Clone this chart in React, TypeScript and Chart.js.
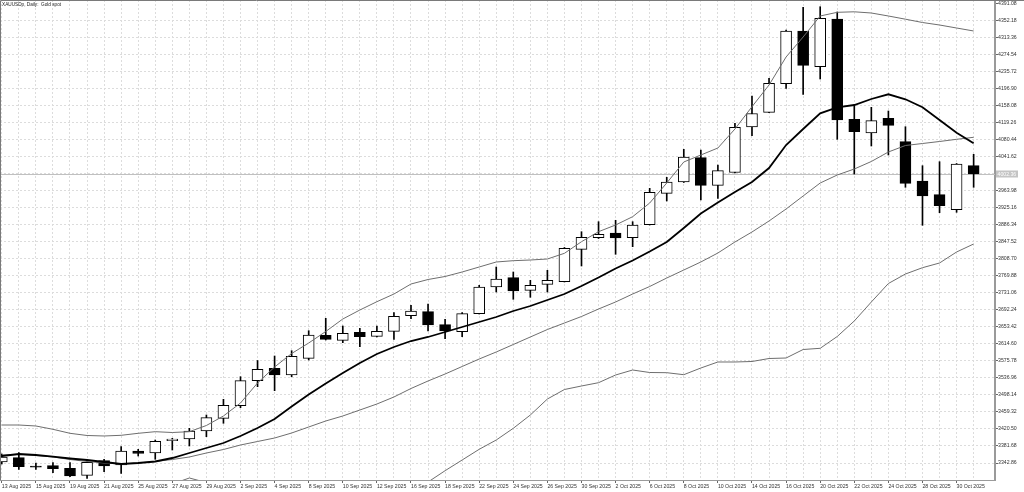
import React, { useEffect, useRef } from "react";
import { Chart, registerables } from "chart.js";
Chart.register(...registerables);

const title = "XAUUSDp, Daily:  Gold spot";

const dates = [
  "13 Aug 2025", "14 Aug 2025", "15 Aug 2025", "18 Aug 2025", "19 Aug 2025", "20 Aug 2025", "21 Aug 2025", "22 Aug 2025",
  "25 Aug 2025", "26 Aug 2025", "27 Aug 2025", "28 Aug 2025", "29 Aug 2025", "1 Sep 2025", "2 Sep 2025", "3 Sep 2025",
  "4 Sep 2025", "5 Sep 2025", "8 Sep 2025", "9 Sep 2025", "10 Sep 2025", "11 Sep 2025", "12 Sep 2025", "15 Sep 2025",
  "16 Sep 2025", "17 Sep 2025", "18 Sep 2025", "19 Sep 2025", "22 Sep 2025", "23 Sep 2025", "24 Sep 2025", "25 Sep 2025",
  "26 Sep 2025", "29 Sep 2025", "30 Sep 2025", "1 Oct 2025", "2 Oct 2025", "3 Oct 2025", "6 Oct 2025", "7 Oct 2025",
  "8 Oct 2025", "9 Oct 2025", "10 Oct 2025", "13 Oct 2025", "14 Oct 2025", "15 Oct 2025", "16 Oct 2025", "17 Oct 2025",
  "20 Oct 2025", "21 Oct 2025", "22 Oct 2025", "23 Oct 2025", "24 Oct 2025", "27 Oct 2025", "28 Oct 2025", "29 Oct 2025",
  "30 Oct 2025", "31 Oct 2025",
];

const opens = [
  3345.15, 3354.96, 3335.56, 3336.70, 3330.77, 3314.80, 3348.11, 3338.30, 3370.25, 3365.68,
  3393.75, 3397.63, 3415.89, 3444.87, 3473.62, 3530.67, 3558.97, 3543.68, 3581.79, 3634.28,
  3622.87, 3641.12, 3631.99, 3643.40, 3679.00, 3688.13, 3658.46, 3642.49, 3683.57, 3744.50,
  3765.72, 3736.97, 3750.66, 3756.59, 3830.53, 3857.00, 3867.72, 3857.00, 3886.66, 3958.32,
  3984.11, 4039.56, 3976.58, 4005.78, 4109.62, 4143.16, 4208.43, 4328.69, 4247.22, 4356.07,
  4127.19, 4095.92, 4129.47, 4076.07, 3986.39, 3955.12, 3920.89, 4021.30,
];
const highs = [
  3363.40, 3366.37, 3342.86, 3343.55, 3343.55, 3349.71, 3351.31, 3380.06, 3374.13, 3395.35,
  3399.23, 3422.05, 3452.40, 3488.23, 3539.80, 3576.77, 3587.04, 3599.13, 3644.77, 3673.07,
  3655.50, 3650.25, 3655.50, 3685.85, 3702.74, 3705.70, 3670.79, 3685.85, 3748.38, 3790.14,
  3778.73, 3759.79, 3782.61, 3834.63, 3870.69, 3893.51, 3896.71, 3893.51, 3969.73, 3994.83,
  4058.73, 4057.13, 4022.90, 4118.06, 4180.36, 4220.75, 4330.97, 4382.77, 4384.14, 4372.05,
  4159.82, 4154.57, 4146.13, 4110.30, 4021.30, 4030.43, 4026.32, 4047.32,
];
const lows = [
  3340.58, 3328.49, 3328.03, 3320.73, 3311.60, 3307.95, 3323.01, 3319.36, 3358.84, 3351.31,
  3372.53, 3381.66, 3402.88, 3433.46, 3469.06, 3516.98, 3507.85, 3539.80, 3577.91, 3623.55,
  3617.39, 3608.26, 3630.40, 3625.15, 3672.16, 3644.09, 3626.52, 3631.08, 3682.88, 3733.09,
  3716.43, 3720.99, 3733.09, 3755.91, 3792.42, 3855.17, 3819.12, 3836.46, 3885.98, 3940.75,
  3982.96, 3943.03, 3946.91, 4004.64, 4089.76, 4142.25, 4197.93, 4184.24, 4219.15, 4081.55,
  4002.36, 4066.26, 4045.72, 3972.01, 3885.30, 3914.05, 3914.96, 3972.01,
];
const closes = [
  3356.56, 3334.42, 3333.28, 3329.86, 3313.20, 3344.46, 3336.02, 3370.25, 3365.00, 3392.38,
  3397.63, 3415.89, 3446.24, 3474.54, 3530.67, 3556.69, 3543.68, 3586.35, 3634.96, 3625.15,
  3638.84, 3631.08, 3643.40, 3677.63, 3689.73, 3657.78, 3644.09, 3683.57, 3744.50, 3762.75,
  3735.37, 3748.38, 3759.79, 3832.81, 3857.91, 3864.76, 3856.31, 3885.98, 3960.60, 3984.11,
  4041.16, 3976.58, 4009.89, 4108.93, 4140.42, 4209.34, 4328.69, 4250.42, 4357.67, 4125.59,
  4098.89, 4123.99, 4113.50, 3981.14, 3952.16, 3930.02, 4025.18, 4002.36,
];

const maLine = [
  3358.84, 3363.40, 3361.12, 3357.24, 3353.13, 3349.71, 3345.15, 3340.58, 3342.86, 3346.29,
  3354.27, 3365.68, 3377.09, 3388.50, 3404.48, 3422.73, 3443.27, 3471.80, 3499.18, 3524.28,
  3548.24, 3571.06, 3591.60, 3607.58, 3621.27, 3630.40, 3641.81, 3653.22, 3664.63, 3676.04,
  3689.73, 3701.14, 3714.83, 3728.52, 3746.78, 3766.17, 3786.71, 3804.97, 3825.51, 3847.19,
  3879.13, 3912.22, 3937.32, 3961.29, 3984.11, 4016.05, 4068.54, 4105.05, 4140.88, 4154.57,
  4159.82, 4173.51, 4184.24, 4172.83, 4154.57, 4125.59, 4096.61, 4072.42,
];
const upperBand = [
  3429.58, 3429.58, 3427.30, 3419.77, 3410.64, 3405.62, 3404.48, 3406.08, 3410.64, 3414.29,
  3412.46, 3414.29, 3428.44, 3450.12, 3479.78, 3525.42, 3561.94, 3592.74, 3616.70, 3642.95,
  3671.47, 3692.01, 3710.95, 3728.52, 3751.34, 3761.61, 3768.46, 3778.73, 3790.14, 3801.55,
  3804.51, 3806.11, 3808.39, 3821.40, 3847.87, 3870.69, 3885.98, 3904.92, 3936.18, 3981.82,
  4029.75, 4045.72, 4061.69, 4105.05, 4155.94, 4205.46, 4269.36, 4315.00, 4362.92, 4371.36,
  4372.50, 4369.76, 4362.92, 4355.62, 4348.08, 4342.38, 4335.53, 4328.69,
];
const midLine = [
  3361.12, 3362.26, 3359.98, 3356.56, 3350.85, 3346.29, 3342.86, 3340.58, 3342.86, 3346.29,
  3350.85, 3356.56, 3365.68, 3373.67, 3383.94, 3391.93, 3399.91, 3411.32, 3425.02, 3438.71,
  3450.12, 3463.81, 3477.50, 3493.48, 3512.87, 3529.99, 3545.96, 3563.08, 3580.19, 3596.17,
  3613.28, 3630.40, 3647.51, 3662.34, 3677.18, 3694.29, 3710.27, 3728.52, 3745.64, 3765.03,
  3783.29, 3801.55, 3822.08, 3847.19, 3870.01, 3895.11, 3922.49, 3952.16, 3981.82, 4000.08,
  4013.77, 4030.89, 4052.57, 4067.40, 4071.96, 4076.53, 4081.55, 4086.11,
];
const lowerBand = [
  3258.43, 3260.71, 3265.28, 3269.84, 3272.12, 3272.12, 3274.40, 3278.97, 3283.53, 3288.10,
  3294.94, 3308.63, 3298.36, 3281.25, 3258.43, 3235.61, 3224.20, 3221.92, 3226.48, 3233.33,
  3242.46, 3253.87, 3265.28, 3276.69, 3288.10, 3299.51, 3325.29, 3349.71, 3374.13, 3395.35,
  3422.05, 3452.40, 3488.91, 3510.59, 3518.58, 3526.11, 3543.68, 3555.09, 3549.38, 3548.93,
  3544.36, 3559.65, 3573.35, 3573.35, 3574.49, 3581.33, 3582.47, 3601.87, 3604.61, 3631.54,
  3666.91, 3710.27, 3752.48, 3774.16, 3788.54, 3799.26, 3824.37, 3842.62,
];

const yTicks = [
  3342.86, 3381.68, 3420.5, 3459.32, 3498.14, 3536.96, 3575.78, 3614.6, 3653.42, 3692.24,
  3731.06, 3769.88, 3808.7, 3847.52, 3886.34, 3925.16, 3963.98, 4002.8, 4041.62, 4080.44,
  4119.26, 4158.08, 4196.9, 4235.72, 4274.54, 4313.36, 4352.18, 4391.08,
];

const Y_MIN = 3304.07;
const Y_MAX = 4399.43;
const X_MIN = -0.1056;
const X_MAX = 58.253;

const FONT = "'Liberation Sans', Arial, sans-serif";
const GRID = "#dcdcdc";

export default function App() {
  const ref = useRef<HTMLCanvasElement>(null);

  useEffect(() => {
    if (!ref.current) return;
    const n = closes.length;
    const idx = closes.map((_, i) => i);
    const lastClose = closes[n - 1];
    const line = (arr: number[]) => arr.map((v, i) => ({ x: i, y: v }));
    const axisFont = { family: FONT, size: 5.2 };

    const overlay = {
      id: "overlay",
      beforeDatasetsDraw(chart: any) {
        const { ctx, chartArea: a, scales } = chart;
        const py = Math.round(scales.y.getPixelForValue(lastClose)) + 0.5;
        ctx.save();
        ctx.strokeStyle = "#c0c0c0";
        ctx.lineWidth = 1;
        ctx.beginPath();
        ctx.moveTo(a.left, py);
        ctx.lineTo(a.right, py);
        ctx.stroke();
        ctx.restore();
      },
      afterDraw(chart: any) {
        const { ctx, chartArea: a, scales } = chart;
        ctx.save();
        ctx.strokeStyle = "#7a7a7a";
        ctx.lineWidth = 1;
        ctx.beginPath();
        ctx.moveTo(a.left + 0.5, a.bottom);
        ctx.lineTo(a.left + 0.5, a.top + 0.5);
        ctx.lineTo(chart.width, a.top + 0.5);
        ctx.stroke();
        const py = scales.y.getPixelForValue(lastClose);
        ctx.fillStyle = "#c4c4c4";
        ctx.fillRect(a.right + 1, py - 3.5, 22, 7);
        ctx.fillStyle = "#ffffff";
        ctx.font = `5.2px ${FONT}`;
        ctx.textBaseline = "middle";
        ctx.textAlign = "left";
        ctx.fillText(lastClose.toFixed(2), a.right + 2.5, py + 0.3);
        ctx.fillStyle = "#222";
        ctx.font = `4.7px ${FONT}`;
        ctx.fillText(title, a.left + 2, a.top + 5);
        ctx.restore();
      },
    };

    const chart = new Chart(ref.current, {
      type: "bar",
      data: {
        datasets: [
          { type: "line", label: "MA", data: line(maLine), borderColor: "#000", borderWidth: 1.8, pointRadius: 0, tension: 0, order: 0 },
          { type: "line", label: "Upper", data: line(upperBand), borderColor: "#6e6e6e", borderWidth: 1, pointRadius: 0, tension: 0, order: 0 },
          { type: "line", label: "Mid", data: line(midLine), borderColor: "#6e6e6e", borderWidth: 1, pointRadius: 0, tension: 0, order: 0 },
          { type: "line", label: "Lower", data: line(lowerBand), borderColor: "#6e6e6e", borderWidth: 1, pointRadius: 0, tension: 0, order: 0 },
          {
            type: "bar", label: "Body",
            data: idx.map((i) => ({ x: i, y: [opens[i], closes[i]] })),
            backgroundColor: idx.map((i) => (closes[i] >= opens[i] ? "#ffffff" : "#000000")),
            borderColor: "#000", borderWidth: 1, borderSkipped: false,
            barThickness: 11, grouped: false, order: 1,
          },
          {
            type: "bar", label: "Wick",
            data: idx.map((i) => ({ x: i, y: [lows[i], highs[i]] })),
            backgroundColor: "#000", borderWidth: 0,
            barThickness: 1, grouped: false, order: 2,
          },
        ] as any,
      },
      options: {
        animation: false,
        responsive: true,
        maintainAspectRatio: false,
        events: [],
        layout: { padding: 0 },
        plugins: { legend: { display: false }, tooltip: { enabled: false }, title: { display: false } },
        scales: {
          x: {
            type: "linear", min: X_MIN, max: X_MAX, offset: false,
            afterBuildTicks: (s: any) => { s.ticks = dates.map((_, i) => ({ value: i })); },
            afterFit: (s: any) => { s.height = 12; s.paddingLeft = 0; s.paddingRight = 0; },
            ticks: {
              autoSkip: false, maxRotation: 0, minRotation: 0, align: "start", padding: 0,
              font: axisFont, color: "#333",
              callback: (_v: any, i: number) => (i % 2 === 0 ? dates[i] : ""),
            },
            grid: {
              offset: false, color: GRID, lineWidth: 1, drawTicks: true, tickLength: 3,
              tickColor: (c: any) => (c.index % 2 === 0 ? "#666" : "rgba(0,0,0,0)"), tickBorderDash: [],
            },
            border: { display: true, color: "#9a9a9a", width: 1, dash: [2, 2] },
          },
          y: {
            type: "linear", position: "right", min: Y_MIN, max: Y_MAX, beginAtZero: false,
            afterBuildTicks: (s: any) => { s.ticks = yTicks.map((v) => ({ value: v })); },
            afterFit: (s: any) => { s.width = 29; s.paddingTop = 0; s.paddingBottom = 0; },
            ticks: {
              autoSkip: false, padding: 0, font: axisFont, color: "#333",
              callback: (v: any) => (Math.abs(v - lastClose) < 5 ? "" : Number(v).toFixed(2)),
            },
            grid: {
              color: (c: any) => (c.tick && c.tick.value > 4380 ? "rgba(0,0,0,0)" : GRID),
              lineWidth: 1, drawTicks: true, tickLength: 3, tickColor: "#666", tickBorderDash: [],
            },
            border: { display: true, color: "#9a9a9a", width: 2, dash: [2, 2] },
          },
        },
      } as any,
      plugins: [overlay as any],
    });
    return () => chart.destroy();
  }, []);

  return (
    <div style={{ position: "fixed", left: 0, top: 0, width: 1024, height: 492, background: "#fff" }}>
      <canvas ref={ref} />
    </div>
  );
}
